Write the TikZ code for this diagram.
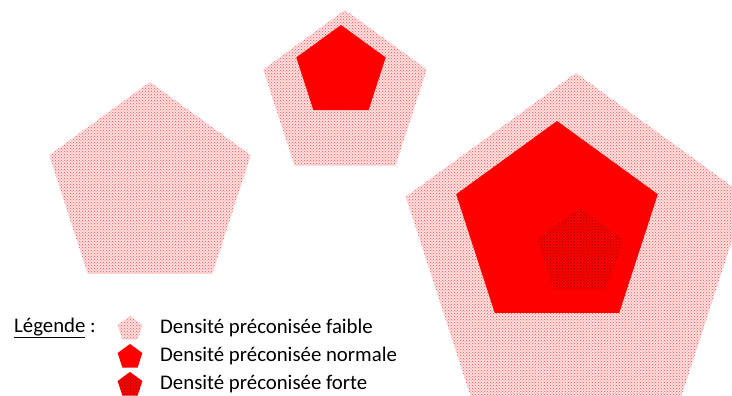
\documentclass[tikz,border=0pt]{standalone}
\usepackage{fontspec}
\setmainfont{Carlito}
\usetikzlibrary{shapes.geometric,patterns,positioning}

\begin{document}
\begin{tikzpicture}[x=1pt, y=-1pt,
  pent/.style={regular polygon, regular polygon sides=5, inner sep=0pt, outer sep=0pt},
  faible/.style={pent, preaction={fill=red!12}, pattern=crosshatch dots, pattern color=red!70},
  normale/.style={pent, fill=red},
  forte/.style={pent, preaction={fill=red}, pattern=crosshatch dots, pattern color=red!55!black},
  legtext/.style={font=\fontsize{20.8}{25}\selectfont, anchor=west, inner sep=0pt}]
\useasboundingbox (0,0) rectangle (732,396);

% Left pentagon
\node[faible, minimum size=212pt] (left) at (150,188) {};

% Top pentagon
\node[faible, minimum size=172pt] (top) at (345,96) {};
\node[normale, minimum size=94pt] (topin) at (341,72) {};

% Big pentagon
\node[faible, minimum size=358pt] (big) at (576,252) {};
\node[normale, minimum size=212pt] (bigin) at (557,227) {};
\node[forte, minimum size=90pt] (bigcore) at (580,253) {};

% Legend
\node[legtext] (legtitle) at (14,328) {\underline{Légende} :};
\node[faible, minimum size=26pt] (leg1) at (130,329) {};
\node[normale, minimum size=26pt] (leg2) at (130,357) {};
\node[forte, minimum size=26pt] (leg3) at (130,385) {};
\node[legtext] (txt1) at (160,328) {Densité préconisée faible};
\node[legtext] (txt2) at (160,356) {Densité préconisée normale};
\node[legtext] (txt3) at (160,384) {Densité préconisée forte};

\end{tikzpicture}
\end{document}
